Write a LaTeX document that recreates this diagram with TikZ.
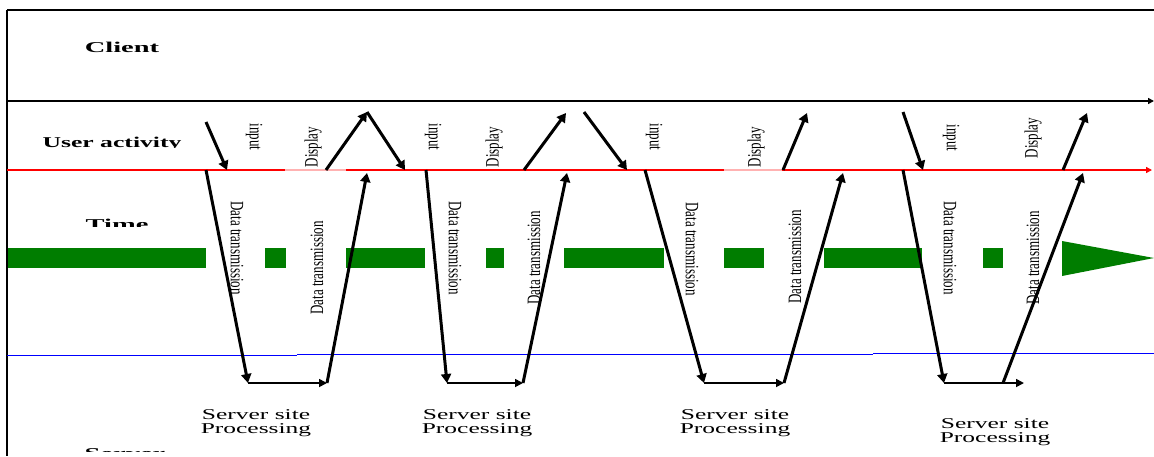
\documentclass[tikz,border=0pt]{standalone}
\usepackage{fontspec}
\setmainfont{Liberation Serif}
\usetikzlibrary{arrows.meta}
\definecolor{bargreen}{RGB}{0,125,0}
\newcommand{\tall}[1]{\scalebox{1}[1.45]{#1}}
\tikzset{
  lane/.style={font=\bfseries\fontsize{15}{15}\selectfont, inner sep=0pt, anchor=base, xscale=1.9},
  vtext/.style={font=\fontsize{13}{14}\selectfont, inner sep=0pt},
  rdown/.style={vtext, rotate=-90},
  rup/.style={vtext, rotate=90},
  flow/.style={line width=3pt, -{Triangle[length=9pt,width=10pt]}},
  hop/.style={line width=1.7pt, -{Triangle[length=8pt,width=8pt]}},
  proc/.style={font=\fontsize{15}{13.5}\selectfont, align=center, inner sep=0pt, xscale=1.7},
  bar/.style={fill=bargreen, draw=none}
}

\begin{document}
\begin{tikzpicture}[x=1pt,y=-1pt]
\useasboundingbox (0,0) rectangle (1154,456);

% time bar
\fill[bar] (7,248) rectangle (206,268);
\fill[bar] (265,248) rectangle (286,268);
\fill[bar] (346,248) rectangle (425,268);
\fill[bar] (486,248) rectangle (504,268);
\fill[bar] (564,248) rectangle (664,268);
\fill[bar] (724,248) rectangle (764,268);
\fill[bar] (824,248) rectangle (922,268);
\fill[bar] (983,248) rectangle (1003,268);
\fill[bar] (1062,241) -- (1154,258) -- (1062,276) -- cycle;

% frame and lanes
\draw[line width=1.8pt] (7,10) -- (1154,10);
\draw[line width=1.8pt] (7,10) -- (7,456);
\draw[line width=1.6pt, -{Triangle[length=6pt,width=6pt]}] (7,101) -- (1154,101);
\draw[red, line width=1.4pt, -{Triangle[length=6pt,width=6pt]}] (7,170) -- (1152,170);
\draw[red!30, line width=1.4pt] (285,170) -- (346,170);
\draw[red!30, line width=1.4pt] (724,170) -- (782,170);
\draw[blue, line width=1pt] (7,355) -- (297,355);
\draw[blue, line width=1pt] (297,354) -- (873,354);
\draw[blue, line width=1pt] (873,353) -- (1154,353);

\node[lane] (client) at (122,52) {Client};
\begin{scope}
\clip (0,120) rectangle (300,147);
\node[lane, xscale=0.9] (user) at (112,147) {User activity};
\end{scope}
\begin{scope}
\clip (0,200) rectangle (300,226);
\node[lane] (time) at (117,229) {Time};
\end{scope}
\begin{scope}
\clip (0,430) rectangle (300,451);
\node[lane] (server) at (125,458) {Server};
\end{scope}

% cycle 1
\coordinate (in1s) at (206,122);
\coordinate (in1e) at (227,170);
\coordinate (dn1s) at (206,170);
\coordinate (dn1e) at (248,383);
\coordinate (up1s) at (327,383);
\coordinate (up1e) at (367,173);
\coordinate (dp1s) at (326,170);
\coordinate (dp1e) at (367,112);
\draw[flow] (in1s) -- (in1e);
\draw[flow] (dn1s) -- (dn1e);
\draw[hop] (dn1e) -- (up1s);
\draw[flow] (up1s) -- (up1e);
\draw[flow] (dp1s) -- (dp1e);
\node[rdown] (input1) at (254,137) {\tall{input}};
\node[rup] (display1) at (313,147) {\tall{Display}};
\node[rdown] (send1) at (237,248) {\tall{Data transmission}};
\node[rup] (back1) at (317,268) {\tall{Data transmission}};
\node[proc] (proc1) at (256,423) {Server site\\Processing};

% cycle 2
\coordinate (in2e) at (405,170);
\coordinate (dn2s) at (426,170);
\coordinate (dn2e) at (447,383);
\coordinate (up2s) at (523,383);
\coordinate (up2e) at (567,173);
\coordinate (dp2s) at (524,170);
\coordinate (dp2e) at (566,113);
\draw[flow] (dp1e) -- (in2e);
\draw[flow] (dn2s) -- (dn2e);
\draw[hop] (dn2e) -- (up2s);
\draw[flow] (up2s) -- (up2e);
\draw[flow] (dp2s) -- (dp2e);
\node[rdown] (input2) at (433,137) {\tall{input}};
\node[rup] (display2) at (494,147) {\tall{Display}};
\node[rdown] (send2) at (455,248) {\tall{Data transmission}};
\node[rup] (back2) at (534,258) {\tall{Data transmission}};
\node[proc] (proc2) at (477,423) {Server site\\Processing};

% cycle 3
\coordinate (in3s) at (584,112);
\coordinate (in3e) at (627,170);
\coordinate (dn3s) at (645,170);
\coordinate (dn3e) at (704,383);
\coordinate (up3s) at (784,383);
\coordinate (up3e) at (843,173);
\coordinate (dp3s) at (783,170);
\coordinate (dp3e) at (807,113);
\draw[flow] (in3s) -- (in3e);
\draw[flow] (dn3s) -- (dn3e);
\draw[hop] (dn3e) -- (up3s);
\draw[flow] (up3s) -- (up3e);
\draw[flow] (dp3s) -- (dp3e);
\node[rdown] (input3) at (654,137) {\tall{input}};
\node[rup] (display3) at (756,147) {\tall{Display}};
\node[rdown] (send3) at (692,249) {\tall{Data transmission}};
\node[rup] (back3) at (795,257) {\tall{Data transmission}};
\node[proc] (proc3) at (735,423) {Server site\\Processing};

% cycle 4
\coordinate (in4s) at (903,112);
\coordinate (in4e) at (923,170);
\coordinate (dn4s) at (903,170);
\coordinate (dn4e) at (944,383);
\coordinate (hp4e) at (1024,383);
\coordinate (up4s) at (1003,383);
\coordinate (up4e) at (1083,173);
\coordinate (dp4s) at (1063,170);
\coordinate (dp4e) at (1087,113);
\draw[flow] (in4s) -- (in4e);
\draw[flow] (dn4s) -- (dn4e);
\draw[hop] (dn4e) -- (hp4e);
\draw[flow] (up4s) -- (up4e);
\draw[flow] (dp4s) -- (dp4e);
\node[rdown] (input4) at (951,138) {\tall{input}};
\node[rup] (display4) at (1033,138) {\tall{Display}};
\node[rdown] (send4) at (950,248) {\tall{Data transmission}};
\node[rup] (back4) at (1033,258) {\tall{Data transmission}};
\node[proc] (proc4) at (995,432) {Server site\\Processing};
\end{tikzpicture}
\end{document}
